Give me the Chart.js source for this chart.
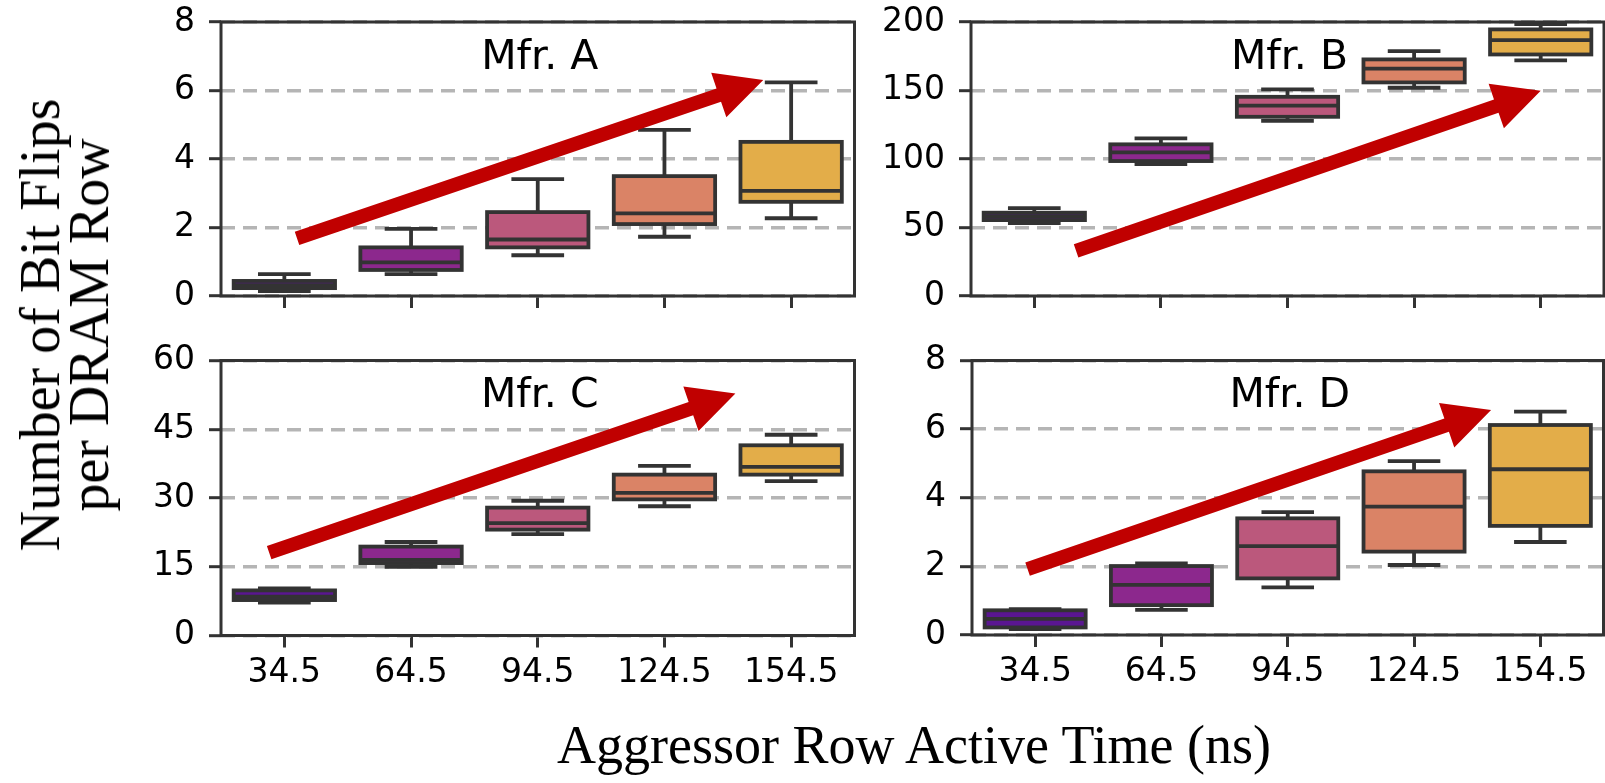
<!DOCTYPE html>
<html>
<head>
<meta charset="utf-8">
<script src="https://cdn.jsdelivr.net/npm/chart.js@4.4.0/dist/chart.umd.min.js"></script>
<style>
  html, body { margin: 0; padding: 0; background: #fff; overflow: hidden; width: 1605px; height: 783px; }
  canvas { position: absolute; }
  .serif { position: absolute; font-family: 'Liberation Serif', 'Times New Roman', serif; color: #000; white-space: nowrap; }
  #ytitle { left: 65px; top: 325px; font-size: 56px; line-height: 49px; text-align: center;
            transform: translate(-50%, -50%) rotate(-90deg); }
  #xtitle { left: 914px; top: 718px; font-size: 54px; line-height: 54px; transform: translateX(-50%); }
</style>
</head>
<body>
<canvas id="cA"></canvas>
<canvas id="cB"></canvas>
<canvas id="cC"></canvas>
<canvas id="cD"></canvas>
<div id="ytitle" class="serif">Number of Bit Flips<br>per DRAM Row</div>
<div id="xtitle" class="serif">Aggressor Row Active Time (ns)</div>
<script>
// ---------------- data ----------------
const categories = ['34.5', '64.5', '94.5', '124.5', '154.5'];

// Mfr. A
const aWhiskerLow  = [0.14, 0.64, 1.19, 1.73, 2.27];
const aQ1          = [0.23, 0.76, 1.42, 2.10, 2.75];
const aMedian      = [0.32, 0.98, 1.65, 2.41, 3.07];
const aQ3          = [0.44, 1.42, 2.45, 3.50, 4.50];
const aWhiskerHigh = [0.64, 1.96, 3.41, 4.85, 6.24];

// Mfr. B
const bWhiskerLow  = [53.3, 96.3, 127.9, 152.0, 172.0];
const bQ1          = [55.4, 98.5, 130.8, 155.9, 176.3];
const bMedian      = [58.1, 104.8, 138.9, 165.9, 186.8];
const bQ3          = [60.8, 110.7, 145.4, 172.7, 194.6];
const bWhiskerHigh = [64.2, 115.1, 150.8, 178.8, 198.4];

// Mfr. C
const cWhiskerLow  = [7.2, 15.0, 22.1, 28.2, 33.7];
const cQ1          = [7.73, 15.8, 23.1, 29.7, 35.1];
const cMedian      = [8.5, 16.5, 24.5, 31.1, 36.8];
const cQ3          = [9.84, 19.4, 27.9, 35.1, 41.5];
const cWhiskerHigh = [10.3, 20.4, 29.4, 37.0, 43.8];

// Mfr. D
const dWhiskerLow  = [0.17, 0.73, 1.39, 2.04, 2.71];
const dQ1          = [0.22, 0.87, 1.65, 2.43, 3.18];
const dMedian      = [0.47, 1.46, 2.59, 3.74, 4.83];
const dQ3          = [0.72, 2.01, 3.40, 4.77, 6.12];
const dWhiskerHigh = [0.75, 2.09, 3.58, 5.07, 6.51];

// y-axis ranges / ticks
const yMaxA = 8,   yStepA = 2;
const yMaxB = 200, yStepB = 50;
const yMaxC = 60,  yStepC = 15;
const yMaxD = 8,   yStepD = 2;

// trend arrows: [category index, value] for tail and tip
const arrowA = [[0.10, 1.68], [3.78, 6.31]];
const arrowB = [[0.33, 33.0], [4.00, 149.8]];
const arrowC = [[-0.12, 18.1], [3.56, 52.8]];
const arrowD = [[-0.06, 1.92], [3.61, 6.56]];

const titles = ['Mfr. A', 'Mfr. B', 'Mfr. C', 'Mfr. D'];

// ---------------- styles ----------------
const boxColors = ['#5a1691', '#8c288d', '#bb587c', '#da8366', '#e3ad49'];
const edgeColor = '#333333';
const arrowColor = '#c00000';
const gridColor = '#b5b5b5';
const boxLine = 3.8;
const frameLine = 3;

// ---------------- plugin ----------------
const boxPlugin = {
  id: 'boxplot',
  beforeDatasetsDraw(chart, args, o) {
    const ctx = chart.ctx, y = chart.scales.y;
    const meta = chart.getDatasetMeta(0);
    ctx.save();
    ctx.strokeStyle = edgeColor; ctx.lineWidth = boxLine; ctx.lineCap = 'butt';
    meta.data.forEach((el, i) => {
      const x = el.x, cw = el.width * 0.52;
      const yq1 = y.getPixelForValue(o.q1[i]), yq3 = y.getPixelForValue(o.q3[i]);
      const ylo = y.getPixelForValue(o.lo[i]), yhi = y.getPixelForValue(o.hi[i]);
      ctx.beginPath();
      ctx.moveTo(x, yq3); ctx.lineTo(x, yhi);
      ctx.moveTo(x, yq1); ctx.lineTo(x, ylo);
      ctx.moveTo(x - cw / 2, yhi); ctx.lineTo(x + cw / 2, yhi);
      ctx.moveTo(x - cw / 2, ylo); ctx.lineTo(x + cw / 2, ylo);
      ctx.stroke();
    });
    ctx.restore();
  },
  afterDatasetsDraw(chart, args, o) {
    const ctx = chart.ctx, xs = chart.scales.x, y = chart.scales.y, ca = chart.chartArea;
    const meta = chart.getDatasetMeta(0);
    ctx.save();
    ctx.strokeStyle = edgeColor; ctx.lineWidth = boxLine;
    meta.data.forEach((el, i) => {
      const w = el.width, x0 = el.x - w / 2;
      const yq1 = y.getPixelForValue(o.q1[i]), yq3 = y.getPixelForValue(o.q3[i]);
      const ym = y.getPixelForValue(o.med[i]);
      ctx.strokeRect(x0, yq3, w, yq1 - yq3);
      ctx.beginPath(); ctx.moveTo(x0, ym); ctx.lineTo(x0 + w, ym); ctx.stroke();
    });
    // arrow
    const tx = xs.getPixelForValue(o.arrow[0][0]), ty = y.getPixelForValue(o.arrow[0][1]);
    const hx = xs.getPixelForValue(o.arrow[1][0]), hy = y.getPixelForValue(o.arrow[1][1]);
    const dx = hx - tx, dy = hy - ty, L = Math.hypot(dx, dy);
    const ux = dx / L, uy = dy / L, px = -uy, py = ux;
    const sw = 7, hw = 23.5, hl = 47;
    const bx = hx - ux * hl, by = hy - uy * hl;
    ctx.fillStyle = arrowColor;
    ctx.beginPath();
    ctx.moveTo(tx + px * sw, ty + py * sw);
    ctx.lineTo(bx + px * sw, by + py * sw);
    ctx.lineTo(bx + px * hw, by + py * hw);
    ctx.lineTo(hx, hy);
    ctx.lineTo(bx - px * hw, by - py * hw);
    ctx.lineTo(bx - px * sw, by - py * sw);
    ctx.lineTo(tx - px * sw, ty - py * sw);
    ctx.closePath();
    ctx.fill();
    // frame
    ctx.strokeStyle = edgeColor; ctx.lineWidth = frameLine;
    ctx.strokeRect(ca.left, ca.top, ca.right - ca.left, ca.bottom - ca.top);
    // panel title
    ctx.fillStyle = '#000';
    ctx.font = '41px "DejaVu Sans"';
    ctx.textAlign = 'center'; ctx.textBaseline = 'alphabetic';
    ctx.fillText(o.title, (ca.left + ca.right) / 2 + 2, ca.top + 46.5);
    ctx.restore();
  }
};

// ---------------- charts ----------------
function makeChart(id, g, s) {
  const cv = document.getElementById(id);
  cv.width = g.cw; cv.height = g.ch;
  cv.style.left = g.cx + 'px'; cv.style.top = g.cy + 'px';
  cv.style.width = g.cw + 'px'; cv.style.height = g.ch + 'px';
  const tickFont = { family: 'DejaVu Sans', size: 33 };
  return new Chart(cv.getContext('2d'), {
    type: 'bar',
    data: {
      labels: categories,
      datasets: [{
        data: s.q1.map((v, i) => [v, s.q3[i]]),
        backgroundColor: boxColors,
        borderWidth: 0,
        barPercentage: 0.8,
        categoryPercentage: 1.0
      }]
    },
    options: {
      responsive: false,
      animation: false,
      devicePixelRatio: 1,
      layout: { padding: { top: g.top - g.cy, right: g.cx + g.cw - g.right, left: 0, bottom: 0 } },
      plugins: {
        legend: { display: false },
        tooltip: { enabled: false },
        boxplot: s
      },
      scales: {
        x: {
          type: 'category',
          offset: true,
          grid: { offset: false, drawOnChartArea: false, drawTicks: true, tickLength: 12,
                  tickWidth: 3, tickColor: edgeColor, color: edgeColor },
          border: { display: false },
          ticks: { display: s.showX, color: '#000', font: tickFont, padding: 6,
                   maxRotation: 0, autoSkip: false },
          afterFit: (sc) => { sc.height = g.cy + g.ch - g.bottom; sc.paddingLeft = 0; sc.paddingRight = 0; }
        },
        y: {
          min: 0, max: s.yMax,
          ticks: { stepSize: s.yStep, color: '#000', font: tickFont, padding: 14 },
          grid: { color: gridColor, lineWidth: 3.4, drawTicks: true, tickLength: 12, tickWidth: 3,
                  tickColor: edgeColor, tickBorderDash: [] },
          border: { display: false, dash: [14, 8] },
          afterFit: (sc) => { sc.width = g.left - g.cx; sc.paddingTop = 0; sc.paddingBottom = 0; }
        }
      }
    },
    plugins: [boxPlugin]
  });
}

makeChart('cA', { cx: 110, cy: 0, cw: 760, ch: 330, left: 221, top: 22, right: 854.5, bottom: 296 },
  { q1: aQ1, q3: aQ3, med: aMedian, lo: aWhiskerLow, hi: aWhiskerHigh, yMax: yMaxA, yStep: yStepA,
    arrow: arrowA, title: titles[0], showX: false });
makeChart('cB', { cx: 870, cy: 0, cw: 735, ch: 330, left: 971, top: 22, right: 1604, bottom: 296 },
  { q1: bQ1, q3: bQ3, med: bMedian, lo: bWhiskerLow, hi: bWhiskerHigh, yMax: yMaxB, yStep: yStepB,
    arrow: arrowB, title: titles[1], showX: false });
makeChart('cC', { cx: 110, cy: 330, cw: 760, ch: 453, left: 221, top: 360.5, right: 854.5, bottom: 635.5 },
  { q1: cQ1, q3: cQ3, med: cMedian, lo: cWhiskerLow, hi: cWhiskerHigh, yMax: yMaxC, yStep: yStepC,
    arrow: arrowC, title: titles[2], showX: true });
makeChart('cD', { cx: 870, cy: 330, cw: 735, ch: 453, left: 972, top: 360.5, right: 1603.5, bottom: 635 },
  { q1: dQ1, q3: dQ3, med: dMedian, lo: dWhiskerLow, hi: dWhiskerHigh, yMax: yMaxD, yStep: yStepD,
    arrow: arrowD, title: titles[3], showX: true });
</script>
</body>
</html>
